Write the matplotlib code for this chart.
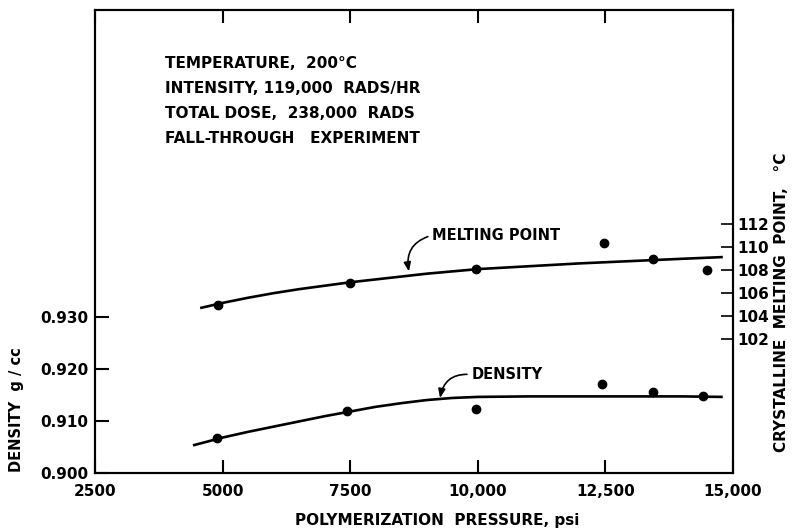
import matplotlib
matplotlib.use("Agg")
import matplotlib.pyplot as plt

# Polymerization pressure (psi) and measured values
density_pressure = [4900, 7440, 9970, 12430, 13430, 14410]
density_values = [0.9067, 0.9119, 0.9123, 0.9171, 0.9156, 0.9148]

melt_pressure = [4910, 7500, 9970, 12470, 13430, 14490]
melt_values = [105.0, 106.9, 108.15, 110.4, 109.0, 108.0]

# Hand-fitted trend curves
density_curve_p = [4420, 5000, 5500, 6000, 6500, 7000, 7500, 8000, 8500,
                   9000, 9500, 10000, 11000, 12000, 13000, 14000, 14800]
density_curve_v = [0.9053, 0.9068, 0.9079, 0.9089, 0.9099, 0.9109, 0.9118,
                   0.9127, 0.9134, 0.9140, 0.9144, 0.9146, 0.9147, 0.9147,
                   0.9147, 0.9147, 0.9146]

melt_curve_p = [4560, 5000, 5500, 6000, 6500, 7000, 7500, 8000, 8500, 9000,
                10000, 11000, 12000, 13000, 14000, 14800]
melt_curve_v = [104.7, 105.15, 105.6, 106.0, 106.35, 106.65, 106.95, 107.2,
                107.45, 107.7, 108.1, 108.35, 108.6, 108.8, 109.0, 109.15]

x_ticks = [2500, 5000, 7500, 10000, 12500, 15000]
x_tick_labels = ["2500", "5000", "7500", "10,000", "12,500", "15,000"]
density_ticks = [0.900, 0.910, 0.920, 0.930]
density_tick_labels = ["0.900", "0.910", "0.920", "0.930"]
melt_ticks = [102, 104, 106, 108, 110, 112]
melt_tick_labels = ["102", "104", "106", "108", "110", "112"]

conditions = ["TEMPERATURE,  200°C",
              "INTENSITY, 119,000  RADS/HR",
              "TOTAL DOSE,  238,000  RADS",
              "FALL-THROUGH   EXPERIMENT"]

plt.rcParams["font.family"] = ["DejaVu Sans"]
plt.rcParams["font.weight"] = "bold"

fig = plt.figure(figsize=(7.93, 5.30), dpi=100)
ax = fig.add_axes([95 / 793, 1 - 473 / 530, 638 / 793, 463 / 530])
ax2 = ax.twinx()

for a in (ax, ax2):
    for s in a.spines.values():
        s.set_linewidth(1.5)

ax.set_xlim(2500, 15000)
ax.set_ylim(0.900, 0.98885)
ax2.set_ylim(90.30, 130.72)

ax.set_xticks(x_ticks)
ax.set_xticklabels(x_tick_labels, fontsize=11, fontweight="bold")
ax.tick_params(axis="x", direction="in", length=9.5, width=1.5, pad=8,
               top=True, bottom=True)
ax.set_yticks(density_ticks)
ax.set_yticklabels(density_tick_labels, fontsize=11, fontweight="bold")
ax.tick_params(axis="y", direction="in", length=10, width=1.5, pad=5,
               left=True, right=False)

ax2.set_yticks(melt_ticks)
ax2.set_yticklabels(melt_tick_labels, fontsize=11, fontweight="bold")
ax2.tick_params(axis="y", direction="in", length=9, width=1.2, pad=3)

# Trend curves and data points
ax.plot(density_curve_p, density_curve_v, color="black", lw=1.9,
        solid_capstyle="butt", solid_joinstyle="round")
ax.plot(density_pressure, density_values, "o", color="black", ms=6)
ax2.plot(melt_curve_p, melt_curve_v, color="black", lw=1.9,
         solid_capstyle="butt", solid_joinstyle="round")
ax2.plot(melt_pressure, melt_values, "o", color="black", ms=6)

arrow = dict(arrowstyle="-|>,head_length=0.5,head_width=0.2", color="black",
             lw=1.2, connectionstyle="arc3,rad=0.45", relpos=(0, 0.5),
             shrinkA=1, shrinkB=0)
ax2.annotate("MELTING POINT", xy=(8650, 107.9), xytext=(9100, 111.05),
             ha="left", va="center", fontsize=10.5, fontweight="bold",
             arrowprops=arrow)
ax.annotate("DENSITY", xy=(9260, 0.9144), xytext=(9870, 0.9189),
            ha="left", va="center", fontsize=10.5, fontweight="bold",
            arrowprops=arrow)

for i, line in enumerate(conditions):
    fig.text(165 / 793, 1 - (63 + i * 25.3) / 530, line, ha="left",
             va="center", fontsize=11, fontweight="bold")

fig.text(437 / 793, 1 - 520 / 530, "POLYMERIZATION  PRESSURE, psi",
         ha="center", va="center", fontsize=11, fontweight="bold")
fig.text(17 / 793, 1 - 410 / 530, "DENSITY  g / cc", rotation=90,
         ha="center", va="center", fontsize=10.5, fontweight="bold")
fig.text(781 / 793, 1 - 302 / 530, "CRYSTALLINE  MELTING  POINT,   °C",
         rotation=90, ha="center", va="center", fontsize=11,
         fontweight="bold")

fig.savefig("out.png", dpi=100)
